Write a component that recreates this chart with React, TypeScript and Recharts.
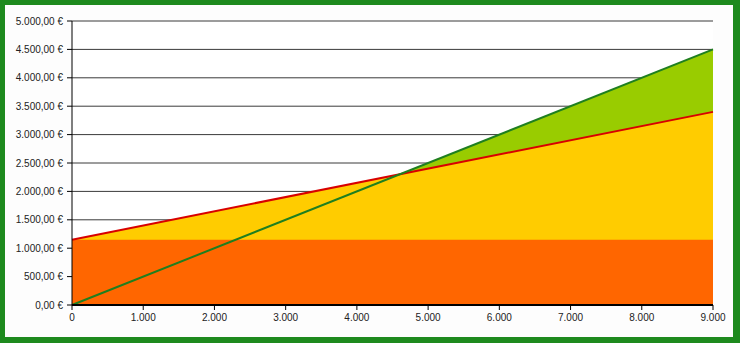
import React from 'react';
import { ComposedChart, Area, Line, XAxis, YAxis, CartesianGrid } from 'recharts';

// Break-even chart: quantity on X, euros on Y
const quantities = [0, 9000];
const fixedCosts = [1150, 1150];
const totalCosts = [1150, 3400];
const revenue = [0, 4500];

const xTicks = [0, 1000, 2000, 3000, 4000, 5000, 6000, 7000, 8000, 9000];
const yTicks = [0, 500, 1000, 1500, 2000, 2500, 3000, 3500, 4000, 4500, 5000];

const data = quantities.map((q, i) => ({
  q,
  fixed: fixedCosts[i],
  total: totalCosts[i],
  revenue: revenue[i],
}));

const thousands = (v: number) =>
  String(Math.round(v)).replace(/\B(?=(\d{3})+(?!\d))/g, '.');

const euro = (v: number) => `${thousands(v)},00 €`;

const tickStyle = { fontSize: 10, fill: '#222', fontFamily: '"Liberation Sans", Arial, sans-serif' };

export default function App() {
  return (
    <div
      style={{
        position: 'absolute',
        left: 0,
        top: 0,
        width: 740,
        height: 343,
        boxSizing: 'border-box',
        borderStyle: 'solid',
        borderColor: '#1e8a1e',
        borderWidth: '5px 7px 6px 5px',
        background: '#fdfdfd',
      }}
    >
      <div style={{ position: 'absolute', left: -5, top: -5 }}>
        <ComposedChart
          width={740}
          height={343}
          data={data}
          margin={{ top: 21, right: 27, left: 0, bottom: 0 }}
        >
          <CartesianGrid vertical={false} stroke="#3a3a3a" strokeWidth={1} fill="#ffffff" />
          <XAxis
            dataKey="q"
            type="number"
            domain={[0, 9000]}
            ticks={xTicks}
            tickFormatter={thousands}
            height={38}
            tick={tickStyle}
            tickSize={5}
            tickMargin={4}
            stroke="#000"
            strokeWidth={2}
            tickLine={{ stroke: '#000', strokeWidth: 1 }}
          />
          <YAxis
            type="number"
            domain={[0, 5000]}
            ticks={yTicks}
            tickFormatter={euro}
            width={72}
            tick={tickStyle}
            tickSize={5}
            tickMargin={4}
            stroke="#000"
            interval={0}
          />
          <Area
            type="linear"
            dataKey="revenue"
            fill="#99cc00"
            fillOpacity={1}
            stroke="none"
            isAnimationActive={false}
          />
          <Area
            type="linear"
            dataKey="total"
            fill="#ffcc00"
            fillOpacity={1}
            stroke="none"
            isAnimationActive={false}
          />
          <Area
            type="linear"
            dataKey="fixed"
            fill="#ff6600"
            fillOpacity={1}
            stroke="none"
            isAnimationActive={false}
          />
          <Line
            type="linear"
            dataKey="total"
            stroke="#d80000"
            strokeWidth={2}
            dot={false}
            isAnimationActive={false}
          />
          <Line
            type="linear"
            dataKey="revenue"
            stroke="#1f7f1f"
            strokeWidth={2}
            dot={false}
            isAnimationActive={false}
          />
        </ComposedChart>
      </div>
    </div>
  );
}
